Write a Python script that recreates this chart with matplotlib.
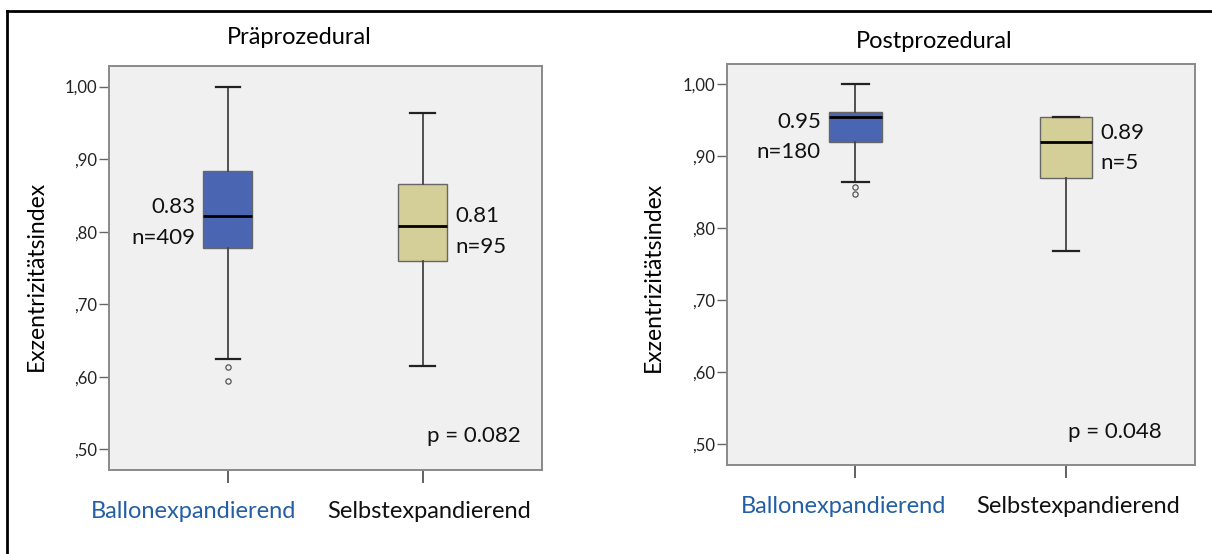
import matplotlib
matplotlib.use("Agg")
import matplotlib.pyplot as plt
from matplotlib.lines import Line2D
from matplotlib.transforms import ScaledTranslation
from matplotlib.ticker import FuncFormatter

plt.rcParams["font.family"] = ["Lato", "DejaVu Sans"]

# ---------------------------------------------------------------------------
# Data
# ---------------------------------------------------------------------------

GROUPS = ["Ballonexpandierend", "Selbstexpandierend"]

PRE_WHISLO = [0.625, 0.615]
PRE_Q1 = [0.777, 0.759]
PRE_MED = [0.821, 0.808]
PRE_Q3 = [0.884, 0.866]
PRE_WHISHI = [1.000, 0.963]
PRE_FLIERS = [[0.613, 0.594], []]
PRE_MEAN_TXT = ["0.83", "0.81"]
PRE_N = [409, 95]
PRE_P = "p = 0.082"

POST_WHISLO = [0.864, 0.769]
POST_Q1 = [0.920, 0.870]
POST_MED = [0.955, 0.920]
POST_Q3 = [0.962, 0.955]
POST_WHISHI = [1.000, 0.955]
POST_FLIERS = [[0.858, 0.848], []]
POST_MEAN_TXT = ["0.95", "0.89"]
POST_N = [180, 5]
POST_P = "p = 0.048"

# ---------------------------------------------------------------------------
# Style
# ---------------------------------------------------------------------------

BOX_COLOURS = ["#4a66b3", "#d4cf98"]
LABEL_COLOURS = ["#235fa5", "#111111"]
FACE = "#f0f0f0"
FRAME = "#8a8a8a"
W, H, DPI = 1212, 554, 100


def _fmt(v, _pos):
    s = f"{v:.2f}".replace(".", ",")
    return s[1:] if s.startswith("0") else s


def _panel(ax, stats_cols, fliers, mean_txt, n, p_txt, p_x, txt_y, xlab_dx):
    whislo, q1, med, q3, whishi = stats_cols
    stats = [
        dict(whislo=whislo[i], q1=q1[i], med=med[i], q3=q3[i],
             whishi=whishi[i], fliers=fliers[i])
        for i in range(len(GROUPS))
    ]
    positions = [1, 2]
    width = 0.25
    bp = ax.bxp(
        stats, positions=positions, widths=width, patch_artist=True,
        boxprops=dict(edgecolor="#666666", linewidth=1.0),
        whiskerprops=dict(color="#444444", linewidth=1.3),
        capprops=dict(color="#222222", linewidth=1.6),
        medianprops=dict(color="black", linewidth=2.0),
        flierprops=dict(marker="o", markersize=3.8, markerfacecolor="none",
                        markeredgecolor="#555555", markeredgewidth=0.9),
    )
    for patch, c in zip(bp["boxes"], BOX_COLOURS):
        patch.set_facecolor(c)

    ax.set_facecolor(FACE)
    for s in ax.spines.values():
        s.set_color(FRAME)
        s.set_linewidth(1.4)
    ax.set_xlim(0.39, 2.613)
    ax.set_ylim(0.4715, 1.0284)
    ax.set_yticks([0.5, 0.6, 0.7, 0.8, 0.9, 1.0])
    ax.yaxis.set_major_formatter(FuncFormatter(_fmt))
    ax.tick_params(axis="y", length=7.2, width=1.0, color="#666666",
                   labelsize=12, pad=1.5, labelcolor="#222222")
    ax.set_xticks(positions)
    ax.set_xticklabels(GROUPS, fontsize=17)
    ax.tick_params(axis="x", length=9.5, width=1.3, color="#555555", pad=13)
    for lab, c, dx in zip(ax.get_xticklabels(), LABEL_COLOURS, xlab_dx):
        lab.set_color(c)
        lab.set_transform(lab.get_transform() +
                          ScaledTranslation(dx / DPI, 0, ax.figure.dpi_scale_trans))

    # mean / n annotations: left of the first box, right of the second
    for i, (pos, side) in enumerate(zip(positions, (-1, 1))):
        x = pos + side * width / 2
        ha = "right" if side < 0 else "left"
        for txt, dy in ((mean_txt[i], 11), (f"n={n[i]}", -11)):
            ax.annotate(txt, xy=(x, txt_y[i]), xytext=(side * 6, dy),
                        textcoords="offset points", ha=ha, va="center",
                        fontsize=16, color="#111111")
    ax.text(p_x, 0.083, p_txt, transform=ax.transAxes, ha="right",
            va="center", fontsize=16, color="#111111")


fig = plt.figure(figsize=(W / DPI, H / DPI), dpi=DPI)

ax1 = fig.add_axes([109 / W, 1 - 470 / H, 433 / W, 404 / H])
_panel(ax1, (PRE_WHISLO, PRE_Q1, PRE_MED, PRE_Q3, PRE_WHISHI), PRE_FLIERS,
       PRE_MEAN_TXT, PRE_N, PRE_P, p_x=0.951,
       txt_y=(0.813, 0.800), xlab_dx=(-34, 6))

ax2 = fig.add_axes([727 / W, 1 - 465 / H, 468 / W, 401 / H])
_panel(ax2, (POST_WHISLO, POST_Q1, POST_MED, POST_Q3, POST_WHISHI), POST_FLIERS,
       POST_MEAN_TXT, POST_N, POST_P, p_x=0.929,
       txt_y=(0.927, 0.912), xlab_dx=(-12, 12))

# titles and y labels
fig.text(299 / W, 1 - 37 / H, "Präprozedural", ha="center", va="center", fontsize=17)
fig.text(934 / W, 1 - 41 / H, "Postprozedural", ha="center", va="center", fontsize=17)
fig.text(36 / W, 1 - 276 / H, "Exzentrizitätsindex", rotation=90,
         ha="center", va="center", fontsize=16.5)
fig.text(653 / W, 1 - 277 / H, "Exzentrizitätsindex", rotation=90,
         ha="center", va="center", fontsize=16.5)

# outer frame (top and left only)
top_y = 1 - 10.5 / H
left_x = 7.3 / W
fig.add_artist(Line2D([left_x, 1], [top_y, top_y], transform=fig.transFigure,
                      color="black", linewidth=2.0))
fig.add_artist(Line2D([left_x, left_x], [0, top_y], transform=fig.transFigure,
                      color="black", linewidth=2.0))

fig.savefig("out.png", dpi=DPI)
